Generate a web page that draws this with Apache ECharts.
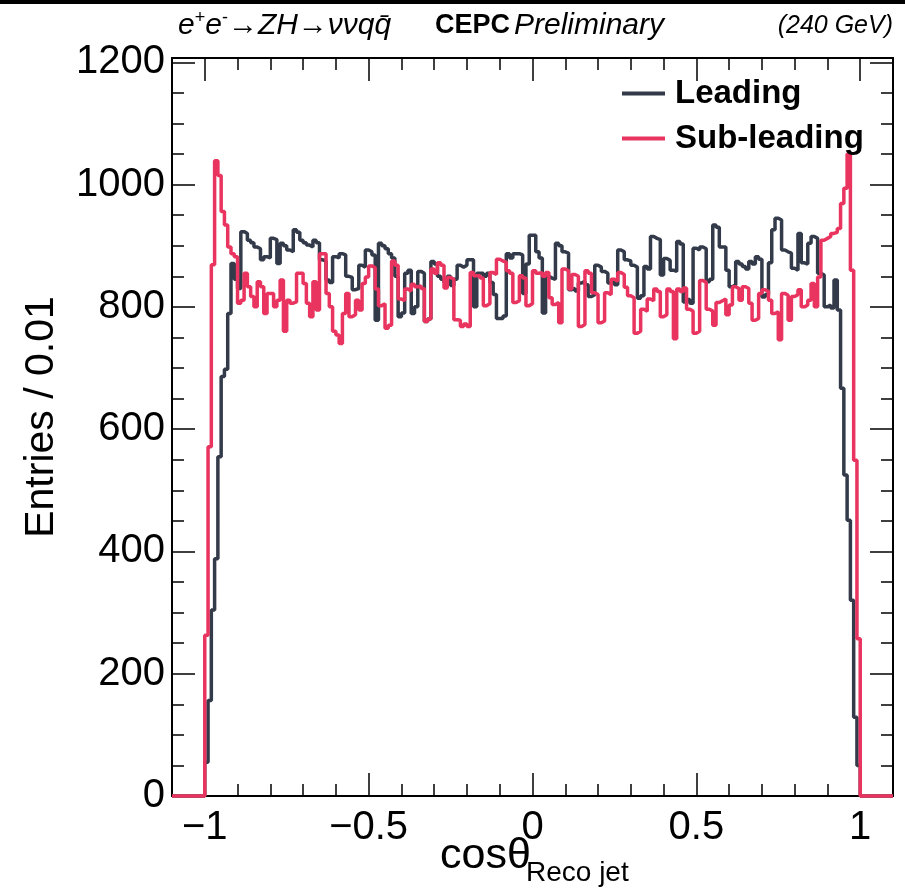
<!DOCTYPE html>
<html>
<head>
<meta charset="utf-8">
<script src="https://cdn.jsdelivr.net/npm/echarts@6/dist/echarts.min.js"></script>
<style>
html,body{margin:0;padding:0;background:#fff;}
#chart{width:905px;height:894px;}
</style>
</head>
<body>
<div id="chart"></div>
<script>
// ---- data: cos(theta) histogram, 0.01-wide bins from -1.0 to 1.0 ----
const histMin = -1.1, histMax = 1.1, binWidth = 0.01, dataStart = -1.0;
const seriesNames = ['Leading', 'Sub-leading'];
const leading = [
 55,156,304,388,555,686,698,789,871,845,
 830,923,920,909,905,898,895,877,882,880,
 912,910,871,904,900,893,890,926,922,909,
 905,901,898,909,905,877,875,844,840,882,
 880,887,885,850,848,828,830,868,865,893,
 890,885,778,904,900,895,887,880,850,784,
 790,855,860,789,800,858,855,776,780,874,
 870,850,845,840,850,835,845,868,865,868,
 877,877,800,855,855,850,855,840,820,781,
 781,785,887,880,887,887,885,822,870,917,
 917,890,880,790,850,847,845,904,900,890,
 888,828,830,826,839,842,836,817,820,868,
 865,858,855,839,842,836,893,890,877,875,
 868,865,814,818,866,862,915,912,910,852,
 879,876,860,858,907,903,808,812,806,896,
 893,898,895,841,845,934,930,898,898,860,
 833,836,874,870,866,862,874,870,882,878,
 816,820,872,926,945,942,893,890,888,863,
 860,920,872,870,904,915,912,855,852,800,
 803,798,844,795,667,525,451,320,129,50
];
const subleading = [
 263,571,869,1039,1015,956,934,898,887,882,
 806,811,855,833,817,800,841,833,789,822,
 822,800,811,844,760,811,806,808,855,855,
 838,806,784,841,795,887,887,822,800,760,
 754,740,789,822,784,787,811,795,838,849,
 867,864,829,802,805,765,770,875,868,813,
 810,829,826,837,833,834,830,776,780,862,
 855,872,868,831,848,845,779,778,768,772,
 768,856,851,851,847,802,805,856,853,878,
 875,873,859,855,807,810,851,847,802,805,
 859,855,856,850,856,815,804,807,774,862,
 859,829,853,850,768,771,859,855,823,820,
 774,777,823,820,845,842,856,853,832,818,
 815,757,760,796,793,813,810,829,825,784,
 787,829,825,748,829,825,831,796,793,757,
 760,843,840,796,793,770,807,810,813,787,
 803,833,830,811,833,830,806,778,781,822,
 828,825,811,789,792,746,822,819,778,817,
 820,828,800,803,811,838,800,849,909,912,
 915,920,922,928,969,994,1050,860,549,257
];
const xMajorTicks = [-1, -0.5, 0, 0.5, 1];
const xMinorTicks = [-1,-0.9,-0.8,-0.7,-0.6,-0.5,-0.4,-0.3,-0.2,-0.1,0,0.1,0.2,0.3,0.4,0.5,0.6,0.7,0.8,0.9,1];
const yMajorTicks = [0, 200, 400, 600, 800, 1000, 1200];
const yMinorTicks = [0,50,100,150,200,250,300,350,400,450,500,550,600,650,700,750,800,850,900,950,1000,1050,1100,1150,1200];
const yMax = 1207;

// build step-histogram points (bin lower edges, padded with empty bins)
function histPoints(vals) {
  const nBins = Math.round((histMax - histMin) / binWidth);
  const offset = Math.round((dataStart - histMin) / binWidth);
  const pts = [];
  let last = 0;
  for (let i = 0; i < nBins; i++) {
    const j = i - offset;
    const v = (j >= 0 && j < vals.length) ? vals[j] : 0;
    pts.push([+(histMin + i * binWidth).toFixed(2), v]);
    last = v;
  }
  pts.push([histMax, last]);
  return pts;
}

const colors = ['#333a4a', '#e8345f'];
const font = '"Liberation Sans", Arial, Helvetica, sans-serif';
const fmtX = v => v < 0 ? '\u2212' + Math.abs(v) : String(v);
const fmtY = v => String(v);

const chart = echarts.init(document.getElementById('chart'), null, {renderer: 'canvas'});
const grid = {left: 172, right: 12, top: 58, bottom: 98};
function xAx(pos, ticks, len, labels) {
  return {
    type: 'value', min: histMin, max: histMax, position: pos, gridIndex: 0,
    axisLine: {show: true, onZero: false, lineStyle: {color: '#000', width: 2}},
    axisTick: {show: true, inside: true, length: len, customValues: ticks, lineStyle: {color: '#000', width: 1.5}},
    axisLabel: labels ? {show: true, customValues: xMajorTicks, formatter: fmtX, fontSize: 40, fontFamily: font, color: '#000', margin: 12} : {show: false},
    splitLine: {show: false}
  };
}
function yAx(pos, ticks, len, labels) {
  return {
    type: 'value', min: 0, max: yMax, position: pos, gridIndex: 0,
    axisLine: {show: true, onZero: false, lineStyle: {color: '#000', width: 2}},
    axisTick: {show: true, inside: true, length: len, customValues: ticks, lineStyle: {color: '#000', width: 1.5}},
    axisLabel: labels ? {show: true, customValues: yMajorTicks, formatter: fmtY, fontSize: 40, fontFamily: font, color: '#000', margin: 7} : {show: false},
    splitLine: {show: false}
  };
}
const option = {
  animation: false,
  backgroundColor: '#fff',
  grid: grid,
  xAxis: [
    xAx('bottom', xMajorTicks, 23, true),
    xAx('bottom', xMinorTicks, 12, false),
    xAx('top', xMajorTicks, 23, false),
    xAx('top', xMinorTicks, 12, false)
  ],
  yAxis: [
    yAx('left', yMajorTicks, 23, true),
    yAx('left', yMinorTicks, 12, false),
    yAx('right', yMajorTicks, 23, false),
    yAx('right', yMinorTicks, 12, false)
  ],
  legend: {
    show: true, orient: 'vertical', left: 622, top: 76, padding: 0,
    itemWidth: 43, itemHeight: 4, itemGap: 10, icon: 'rect',
    textStyle: {fontSize: 33, fontWeight: 'bold', fontFamily: font, color: '#000', lineHeight: 35, padding: [0,0,0,5]},
    data: seriesNames
  },
  series: [
    {name: seriesNames[0], type: 'line', step: 'end', showSymbol: false, clip: false,
     data: histPoints(leading), color: colors[0], lineStyle: {width: 3.5, color: colors[0]}, z: 2},
    {name: seriesNames[1], type: 'line', step: 'end', showSymbol: false, clip: false,
     data: histPoints(subleading), color: colors[1], lineStyle: {width: 3.5, color: colors[1]}, z: 3}
  ],
  graphic: [
    {type: 'rect', left: 0, top: 0, shape: {width: 905, height: 4}, style: {fill: '#000'}},
    {type: 'text', x: 178, y: 26, style: {
      text: '{m|e}{s|+}{m|e}{s|-}{m|\u2192ZH\u2192\u03bd\u03bdqq\u0304}',
      verticalAlign: 'middle',
      rich: {m: {fontSize: 30, fontStyle: 'italic', fontFamily: font, lineHeight: 34, fill: '#000'},
             s: {fontSize: 18, fontFamily: font, lineHeight: 34, verticalAlign: 'top', fill: '#000'}}
    }},
    {type: 'text', x: 435, y: 26, style: {text: 'CEPC', fontSize: 27, fontWeight: 'bold', fontFamily: font, fill: '#000', verticalAlign: 'middle'}},
    {type: 'text', x: 514, y: 26, style: {text: 'Preliminary', fontSize: 30, fontStyle: 'italic', fontFamily: font, fill: '#000', verticalAlign: 'middle'}},
    {type: 'text', x: 893, y: 26, style: {text: '(240 GeV)', fontSize: 25, fontStyle: 'italic', fontFamily: font, fill: '#000', align: 'right', verticalAlign: 'middle'}},
    {type: 'text', x: 42, y: 417, rotation: Math.PI / 2, style: {text: 'Entries / 0.01', fontSize: 41, fontFamily: font, fill: '#000', align: 'center', verticalAlign: 'middle'}},
    {type: 'text', x: 440, y: 856, style: {text: 'cos\u03b8', fontSize: 43, fontFamily: font, fill: '#000', verticalAlign: 'middle'}},
    {type: 'text', x: 526, y: 873, style: {text: 'Reco jet', fontSize: 28, fontFamily: font, fill: '#000', verticalAlign: 'middle'}}
  ]
};
chart.setOption(option);
</script>
</body>
</html>
